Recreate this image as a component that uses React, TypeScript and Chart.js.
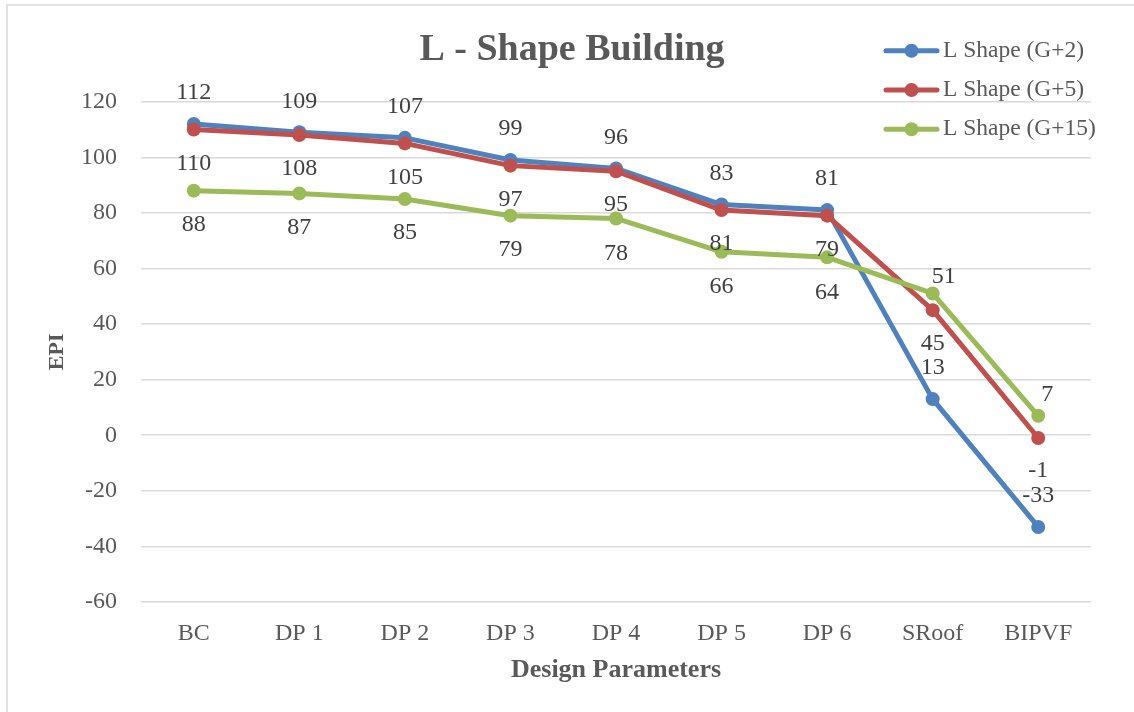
import React, { useEffect, useRef } from "react";
import { Chart, registerables } from "chart.js";

Chart.register(...registerables);

const categories = ["BC", "DP 1", "DP 2", "DP 3", "DP 4", "DP 5", "DP 6", "SRoof", "BIPVF"];
const seriesNames = ["L Shape (G+2)", "L Shape (G+5)", "L Shape (G+15)"];
const g2Values = [112, 109, 107, 99, 96, 83, 81, 13, -33];
const g5Values = [110, 108, 105, 97, 95, 81, 79, 45, -1];
const g15Values = [88, 87, 85, 79, 78, 66, 64, 51, 7];
const yMin = -60;
const yMax = 120;
const yStep = 20;

const chartTitle = "L - Shape Building";
const xTitle = "Design Parameters";
const yTitle = "EPI";

const colors = ["#4F81BD", "#C0504D", "#9BBB59"];
const FONT = '"Liberation Serif", "Times New Roman", serif';

// data label placement (pixel nudges relative to each point)
const labelDy = [
  [-31, -31, -31, -31, -31, -31, -31, -31, -31],
  [34, 34, 34, 34, 34, 34, 34, 34, 33],
  [34, 34, 34, 34, 35, 35, 35, -17, -21],
];
const labelDx = [
  [0, 0, 0, 0, 0, 0, 0, 0, 0],
  [0, 0, 0, 0, 0, 0, 0, 0, 0],
  [0, 0, 0, 0, 0, 0, 0, 11, 9],
];

const overlayPlugin = {
  id: "overlay",
  beforeDraw(chart: any) {
    const ctx = chart.ctx;
    ctx.save();
    ctx.strokeStyle = "#D9D9D9";
    ctx.lineWidth = 1.5;
    ctx.strokeRect(7, 5, 1300, 900);
    ctx.restore();
  },
  afterDatasetsDraw(chart: any) {
    const ctx = chart.ctx;
    ctx.save();
    ctx.font = `24px ${FONT}`;
    ctx.fillStyle = "#404040";
    ctx.textAlign = "center";
    ctx.textBaseline = "middle";
    chart.data.datasets.forEach((ds: any, di: number) => {
      const meta = chart.getDatasetMeta(di);
      meta.data.forEach((pt: any, i: number) => {
        const v = ds.data[i];
        ctx.fillText(String(v), pt.x + labelDx[di][i], pt.y + labelDy[di][i]);
      });
    });
    ctx.restore();
  },
  afterDraw(chart: any) {
    const ctx = chart.ctx;
    ctx.save();
    // title
    ctx.font = `bold 38px ${FONT}`;
    ctx.fillStyle = "#595959";
    ctx.textAlign = "center";
    ctx.textBaseline = "middle";
    ctx.fillText(chartTitle, 572, 50);
    // legend
    const lx = 884;
    const ly0 = 50.7;
    const gap = 39.3;
    seriesNames.forEach((name, i) => {
      const y = ly0 + i * gap;
      ctx.strokeStyle = colors[i];
      ctx.lineWidth = 5;
      ctx.lineCap = "round";
      ctx.beginPath();
      ctx.moveTo(lx + 2, y);
      ctx.lineTo(lx + 53, y);
      ctx.stroke();
      ctx.fillStyle = colors[i];
      ctx.beginPath();
      ctx.arc(lx + 27.5, y, 7, 0, Math.PI * 2);
      ctx.fill();
      ctx.fillStyle = "#595959";
      ctx.font = `23.5px ${FONT}`;
      ctx.textAlign = "left";
      ctx.fillText(name, lx + 59, y);
    });
    ctx.restore();
  },
};

export default function App() {
  const canvasRef = useRef<HTMLCanvasElement | null>(null);

  useEffect(() => {
    if (!canvasRef.current) return;
    const seriesData = [g2Values, g5Values, g15Values];
    const chart = new Chart(canvasRef.current, {
      type: "line",
      data: {
        labels: categories,
        datasets: seriesNames.map((name, i) => ({
          label: name,
          data: seriesData[i],
          borderColor: colors[i],
          backgroundColor: colors[i],
          pointBackgroundColor: colors[i],
          pointBorderColor: colors[i],
          pointBorderWidth: 0,
          pointRadius: 7,
          borderWidth: 5,
          borderJoinStyle: "round" as const,
          borderCapStyle: "round" as const,
          tension: 0,
          order: 2 - i,
          clip: false as any,
        })),
      },
      options: {
        responsive: false,
        animation: false,
        layout: { padding: { left: 44, right: 43, top: 101.7, bottom: 26 } },
        plugins: {
          legend: { display: false },
          title: { display: false },
          tooltip: { enabled: false },
        },
        scales: {
          x: {
            offset: true,
            grid: { display: false, drawTicks: false },
            border: { display: false },
            ticks: {
              color: "#595959",
              font: { family: FONT, size: 24 },
              padding: 17,
              maxRotation: 0,
            },
            title: {
              display: true,
              text: xTitle,
              color: "#595959",
              font: { family: FONT, size: 26, weight: "bold" },
              padding: { top: 0, bottom: 0 },
            },
            afterFit: (scale: any) => {
              scale.height = 84;
            },
          },
          y: {
            min: yMin,
            max: yMax,
            grid: { color: "#D9D9D9", lineWidth: 1.5, drawTicks: false },
            border: { display: false },
            ticks: {
              stepSize: yStep,
              color: "#595959",
              font: { family: FONT, size: 24 },
              padding: 24,
            },
            title: {
              display: true,
              text: yTitle,
              color: "#595959",
              font: { family: FONT, size: 22, weight: "bold" },
              padding: { top: 0, bottom: 0 },
            },
            afterFit: (scale: any) => {
              scale.width = 97;
            },
          },
        },
      },
      plugins: [overlayPlugin],
    });
    return () => chart.destroy();
  }, []);

  return (
    <div style={{ position: "absolute", left: 0, top: 0, width: 1134, height: 712, background: "#fff" }}>
      <canvas ref={canvasRef} width={1134} height={712} />
    </div>
  );
}
